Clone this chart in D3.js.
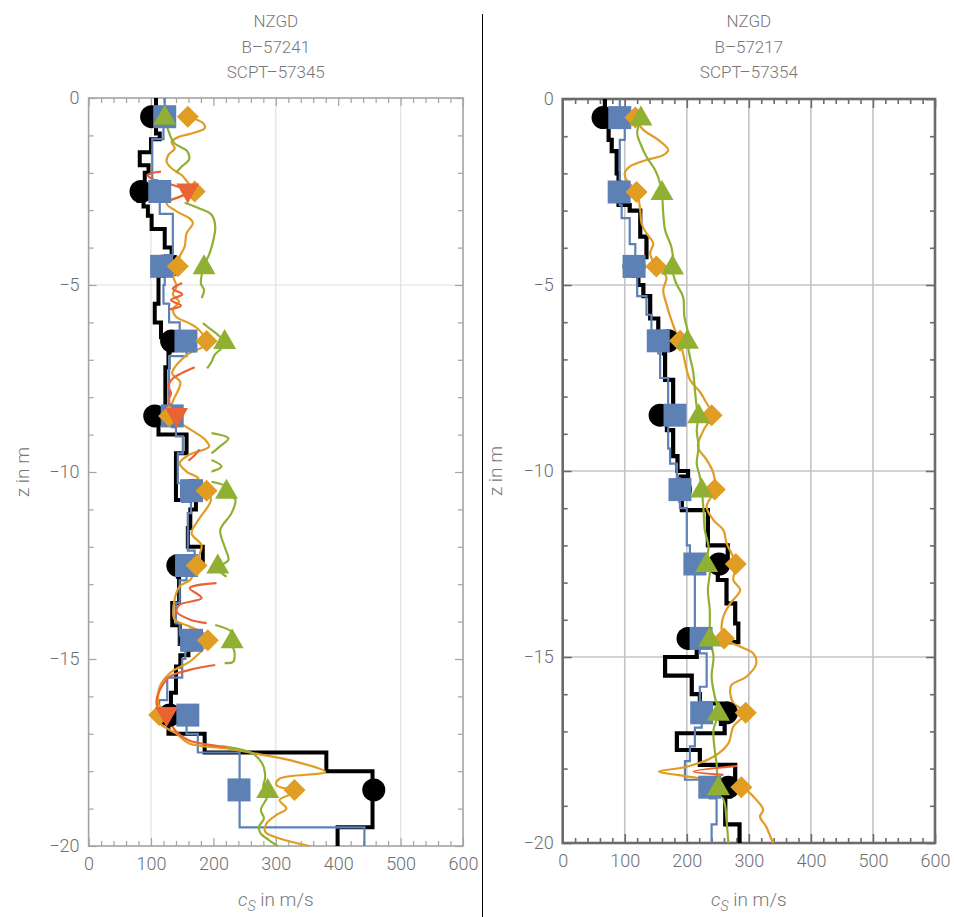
<!DOCTYPE html>
<html><head><meta charset="utf-8">
<script src="https://cdn.jsdelivr.net/npm/d3@7"></script>
<style>
body{margin:0;background:#fff;}
svg{display:block;}
text{font-family:Roboto,"DejaVu Sans",sans-serif;font-weight:300;}
</style>
</head><body>
<svg id="c" width="954" height="917"></svg>
<script>
// ---------- shared ----------
const xTickVals = [0,100,200,300,400,500,600];
const xTickLabels = ["0","100","200","300","400","500","600"];
const zTickVals = [0,-5,-10,-15,-20];
const zTickLabels = ["0","\u22125","\u221210","\u221215","\u221220"];
const markerDepths = [0.5,2.5,4.5,6.5,8.5,10.5,12.5,14.5,16.5,18.5];
const titleLeft = ["NZGD","B\u201357241","SCPT\u201357345"];
const titleRight = ["NZGD","B\u201357217","SCPT\u201357354"];

// ---------- left panel (B-57241) ----------
const L_blackTop = [0,0.95,1.1,1.45,1.8,2.0,2.3,2.75,2.9,3.15,3.5,4.0,4.25,4.7,5.5,6.0,6.4,6.8,7.2,8.4,8.7,9.0,9.5,10.75,11.0,11.5,12.0,12.4,12.8,13.5,14.1,14.6,14.9,15.2,15.9,16.6,17.0,17.5,18.0,19.5];
const L_blackVs  = [108,114,100,82,96,90,80,88,95,101,122,133,138,112,106,116,130,128,123,106,112,157,140,172,163,159,183,143,145,134,146,160,147,140,132,128,186,381,455,399];
const L_blueTop = [0,0.6,1.1,2.2,2.6,3.1,4.2,5.0,5.5,6.0,6.6,6.9,8.5,8.8,9.05,9.5,10.3,10.8,11.1,12.1,12.4,12.9,13.5,14.05,14.6,15.0,15.5,16.1,16.45,17.0,17.5,19.5];
const L_blueVs  = [122,120,102,110,114,135,122,120,129,146,157,129,134,140,151,143,150,164,159,170,157,146,140,146,155,150,126,113,157,175,242,442];
const L_orangeDepth = [0.5,0.68,0.81,0.95,1.03,1.17,1.35,1.52,1.7,1.88,2.06,2.28,2.5,2.64,2.82,3.08,3.22,3.35,3.62,3.97,4.24,4.5,4.78,5.04,5.25,5.45,5.65,5.85,6.02,6.2,6.56,6.9,7.36,7.6,8.07,8.34,8.5,8.78,9.14,9.32,9.54,9.76,9.99,10.17,10.3,10.52,10.75,11.28,11.64,11.95,12.2,12.53,12.88,13.06,13.6,13.95,14.13,14.35,14.53,15.02,15.38,15.74,16.27,16.58,16.72,16.99,17.26,17.39,17.53,17.75,18.02,18.2,18.37,18.55,18.77,19.0,19.17,19.4,19.62,19.8,20.0];
const L_orangeVs    = [159,184,186,165,146,133,138,128,125,133,149,160,170,146,125,146,162,167,157,154,146,143,136,141,135,145,135,140,161,177,189,155,134,147,136,130,129,155,187,193,161,146,157,176,146,189,196,176,165,181,178,173,163,146,136,138,162,187,191,166,130,114,111,113,114,140,161,221,268,333,379,306,301,330,306,317,301,285,283,306,354];
const L_greenDepth = [0.5,0.83,1.2,1.42,1.64,1.82,2.0,2.4, 2.8,2.94,3.12,3.43,3.79,4.15,4.5,4.96,5.13,5.35,5.6, 6.02,6.11,6.56,6.87,7.05,7.23,7.5, 8.96,9.1,9.32,9.5,9.6, 9.68,9.85,9.99,10.1, 10.26,10.4,10.57,10.74,11.1,11.55,12.0,12.35,12.57,12.8,13.0, 14.09,14.31,14.58,14.85,15.07,15.11,15.3, 17.35,17.53,17.79,18.15,18.42,18.64,19.04,19.26,19.49,19.67,19.84,20.0];
const L_greenVs    = [122,127,137,158,161,150,140,null, 154,176,197,203,200,194,185,180,185,181,null, 183,190,218,202,197,190,null, 197,224,210,197,null, 197,213,197,null, 197,221,221,235,229,211,218,224,207,221,null, 203,232,230,234,232,218,null, 221,263,278,283,280,287,276,281,273,276,289,303];
const L_redDepth = [1.97,2.05,2.15,2.3,2.5,2.65,2.75,2.9, 4.95,5.1,5.25,5.4,5.55,5.65,5.8, 7.2,7.35,7.5,7.7,7.9,8.1,8.3,8.5,8.7,8.9, 9.4,9.55,9.7,9.8, 12.97,13.1,13.37,13.55,13.73,13.95,14.04,14.2, 15.16,15.29,15.47,15.74,16.09,16.45,16.6,16.95,17.17,17.35];
const L_redVs    = [116,95,100,130,159,145,125,null, 150,135,150,132,148,130,null, 170,150,135,128,132,128,135,141,150,null, 178,170,160,null, 205,162,181,146,141,163,189,null, 203,162,130,117,109,114,125,141,160,221];
const L_mkBlack  = [101,84,118,133,106,165,143,163,130,457];
const L_mkBlue   = [122,114,117,156,134,165,157,165,159,241];
const L_mkOrange = [159,170,143,189,129,189,173,191,113,330];
const L_mkGreen  = [122,null,185,218,null,221,207,230,null,287];
const L_mkRed    = [null,159,null,null,141,null,null,null,125,null];

// ---------- right panel (B-57217) ----------
const R_blackTop = [0,0.6,1.1,1.4,2.0,2.85,3.0,3.7,4.25,5.0,5.3,5.9,6.45,6.84,7.55,8.27,8.6,8.9,9.6,10.0,10.15,10.8,11.05,12.0,12.4,12.93,13.56,14.1,14.6,15.0,15.5,16.0,16.25,16.8,17.05,17.5,17.9,18.4,18.75,19.5];
const R_blackVs  = [68,74,79,87,90,108,125,135,122,130,141,154,163,165,178,160,168,178,185,202,190,192,234,266,250,264,278,283,216,165,208,221,255,261,184,221,278,270,262,285];
const R_blueTop = [0,0.75,1.1,2.85,3.2,3.9,4.6,5.3,5.8,6.3,6.84,7.5,8.3,8.7,9.4,9.8,10.2,11.0,12.0,12.3,14.6,14.9,15.8,16.2,16.9,17.4,17.8,18.3,18.8,19.5];
const R_blueVs  = [92,100,92,95,108,117,120,135,143,154,157,170,181,170,173,184,189,200,205,213,221,232,221,224,213,205,197,237,248,240];
const R_orangeDepth = [0.52,0.83,1.1,1.37,1.51,1.64,1.82,2.0,2.18,2.49,2.99,3.34,3.61,3.88,4.15,4.51,4.78,5.14,5.5,5.94,6.3,6.52,6.84,7.55,7.87,8.09,8.5,8.9,9.35,9.7,10.06,10.51,10.96,11.32,11.59,11.94,12.21,12.48,12.66,12.93,13.2,13.56,13.91,14.23,14.5,14.72,14.9,15.17,15.53,15.75,15.98,16.24,16.5,16.87,17.32,17.68,17.95,18.08,18.17,18.26,18.49,18.84,19.11,19.29,19.56,19.92,20.0];
const R_orangeVs    = [117,130,154,170,162,135,108,100,103,119,125,127,135,146,141,151,167,162,167,175,183,189,194,205,221,229,240,227,218,232,243,245,232,243,259,264,272,279,278,275,286,270,259,256,260,286,307,312,296,272,270,275,295,275,267,243,200,155,184,221,288,312,323,318,328,337,340];
const R_greenDepth = [0.52,0.92,1.19,1.55,1.91,2.27,2.54,3.07,3.52,3.97,4.33,4.6,4.96,5.32,5.85,6.3,6.52,6.93,7.3,7.82,8.27,8.5,8.9,9.35,9.8,10.15,10.51,11.05,11.59,12.03,12.48,12.66,13.2,13.74,14.18,14.5,14.99,15.53,16.06,16.5,16.96,17.5,17.86,18.49,18.93,19.38,20.0];
const R_greenVs    = [126,120,125,135,149,157,160,162,165,175,178,177,183,194,196,202,201,205,210,213,216,219,216,219,216,221,224,227,229,235,232,237,234,237,237,237,243,240,245,251,243,245,248,251,261,264,267];
const R_redDepth = [17.93,18.08,18.17];
const R_redVs    = [281,211,259];
const R_mkBlack  = [65,92,115,170,157,190,252,202,264,267];
const R_mkBlue   = [92,91,115,154,181,189,213,223,224,237];
const R_mkOrange = [117,119,151,189,240,245,279,260,295,288];
const R_mkGreen  = [126,160,177,201,219,224,232,237,251,251];
const R_mkRed    = [null,null,null,null,null,null,null,null,null,null];

// ---------- styles ----------
const C_BLACK="#000000", C_BLUE="#5E81B5", C_ORANGE="#E19C24", C_GREEN="#8FB032", C_RED="#EB6235";

const svg = d3.select("#c");

// separator
svg.append("line").attr("x1",482.5).attr("x2",482.5).attr("y1",14).attr("y2",917)
  .attr("stroke","#000").attr("stroke-width",1);

function stepPoints(tops, vs){
  const pts=[];
  tops.forEach((t,i)=>{
    const next = i<tops.length-1 ? tops[i+1] : 20;
    pts.push([vs[i],t]); pts.push([vs[i],next]);
  });
  return pts;
}

function drawPanel(p){
  const x = d3.scaleLinear().domain([0,600]).range([p.x0,p.x1]);
  const y = d3.scaleLinear().domain([0,-20]).range([p.y0,p.y1]);
  const g = svg.append("g");

  // grid
  p.gridX.forEach(v=>g.append("line").attr("x1",x(v)).attr("x2",x(v)).attr("y1",p.y0).attr("y2",p.y1)
      .attr("stroke",p.gridColor).attr("stroke-width",p.gridW));
  p.gridZ.forEach(v=>g.append("line").attr("y1",y(v)).attr("y2",y(v)).attr("x1",p.x0).attr("x2",p.x1)
      .attr("stroke",p.gridColor).attr("stroke-width",p.gridW));

  // axes
  function styleAxis(sel){
    sel.select(".domain").remove();
    sel.selectAll(".tick line").attr("stroke",p.axisColor).attr("stroke-width",p.tickW);
    sel.selectAll(".tick text").attr("fill","#6e6e6e").attr("font-size",18)
      .attr("font-family","Roboto, 'DejaVu Sans', sans-serif").attr("font-weight",300);
  }
  const minorX = d3.range(0,601,20).filter(v=>v%100!==0);
  const minorZ = d3.range(0,-21,-1).filter(v=>v%5!==0);
  g.append("g").attr("transform",`translate(0,${p.y1})`)
    .call(d3.axisBottom(x).tickValues(xTickVals).tickSize(-p.majorLen).tickSizeOuter(0).tickPadding(11)
      .tickFormat((d,i)=>xTickLabels[i])).call(styleAxis);
  g.append("g").attr("transform",`translate(0,${p.y1})`)
    .call(d3.axisBottom(x).tickValues(minorX).tickSize(-p.minorLen).tickSizeOuter(0).tickFormat("")).call(styleAxis);
  g.append("g").attr("transform",`translate(0,${p.y0})`)
    .call(d3.axisTop(x).tickValues(xTickVals).tickSize(-p.majorLen).tickSizeOuter(0).tickFormat("")).call(styleAxis);
  g.append("g").attr("transform",`translate(0,${p.y0})`)
    .call(d3.axisTop(x).tickValues(minorX).tickSize(-p.minorLen).tickSizeOuter(0).tickFormat("")).call(styleAxis);
  g.append("g").attr("transform",`translate(${p.x0},0)`)
    .call(d3.axisLeft(y).tickValues(zTickVals).tickSize(-p.majorLen).tickSizeOuter(0).tickPadding(p.yPad)
      .tickFormat((d,i)=>zTickLabels[i])).call(styleAxis);
  g.append("g").attr("transform",`translate(${p.x0},0)`)
    .call(d3.axisLeft(y).tickValues(minorZ).tickSize(-p.minorLen).tickSizeOuter(0).tickFormat("")).call(styleAxis);
  g.append("g").attr("transform",`translate(${p.x1},0)`)
    .call(d3.axisRight(y).tickValues(zTickVals).tickSize(-p.majorLen).tickSizeOuter(0).tickFormat("")).call(styleAxis);
  g.append("g").attr("transform",`translate(${p.x1},0)`)
    .call(d3.axisRight(y).tickValues(minorZ).tickSize(-p.minorLen).tickSizeOuter(0).tickFormat("")).call(styleAxis);

  // frame
  g.append("rect").attr("x",p.x0).attr("y",p.y0).attr("width",p.x1-p.x0).attr("height",p.y1-p.y0)
    .attr("fill","none").attr("stroke",p.axisColor).attr("stroke-width",p.frameW);

  // titles
  p.title.forEach((t,i)=>g.append("text").attr("x",(p.x0+p.x1)/2).attr("y",27+i*25.5)
    .attr("text-anchor","middle").attr("font-size",17).attr("fill","#777").text(t));

  // axis labels
  const xl = g.append("text").attr("x",(p.x0+p.x1)/2).attr("y",906).attr("text-anchor","middle")
    .attr("font-size",19).attr("fill","#777");
  xl.append("tspan").attr("font-style","italic").text("c");
  xl.append("tspan").attr("font-style","italic").attr("font-size",14).attr("dy",5).text("S");
  xl.append("tspan").attr("dy",-5).text(" in m/s");
  g.append("text").attr("transform",`translate(${p.ylabX},${(p.y0+p.y1)/2}) rotate(-90)`)
    .attr("text-anchor","middle").attr("font-size",19).attr("fill","#777").text("z in m");

  // lines
  const lin = d3.line().x(d=>x(d[0])).y(d=>y(-d[1]));
  const smooth = d3.line().defined(d=>d[0]!=null).x(d=>x(d[0])).y(d=>y(-d[1])).curve(d3.curveCatmullRom.alpha(0.5));
  const pair = (ds,vs)=>ds.map((d,i)=>[vs[i],d]);

  g.append("path").attr("d",lin(stepPoints(p.blackTop,p.blackVs))).attr("fill","none")
    .attr("stroke",C_BLACK).attr("stroke-width",p.blackW).attr("stroke-linejoin","miter");
  g.append("path").attr("d",lin(stepPoints(p.blueTop,p.blueVs))).attr("fill","none")
    .attr("stroke",C_BLUE).attr("stroke-width",2.2);
  g.append("path").attr("d",smooth(pair(p.orangeDepth,p.orangeVs))).attr("fill","none")
    .attr("stroke",C_ORANGE).attr("stroke-width",2.2);
  g.append("path").attr("d",smooth(pair(p.greenDepth,p.greenVs))).attr("fill","none")
    .attr("stroke",C_GREEN).attr("stroke-width",2.2);
  g.append("path").attr("d",smooth(pair(p.redDepth,p.redVs))).attr("fill","none")
    .attr("stroke",C_RED).attr("stroke-width",2.2);

  // markers
  const mk = g.append("g");
  function place(vals, drawFn){
    vals.forEach((v,i)=>{ if(v==null) return; drawFn(x(v), y(-markerDepths[i])); });
  }
  place(p.mkBlack,(cx,cy)=>mk.append("circle").attr("cx",cx).attr("cy",cy).attr("r",11.5).attr("fill",C_BLACK));
  place(p.mkBlue,(cx,cy)=>mk.append("rect").attr("x",cx-11.5).attr("y",cy-11.5).attr("width",23).attr("height",23).attr("fill",C_BLUE));
  place(p.mkOrange,(cx,cy)=>mk.append("path").attr("d",`M${cx},${cy-11}L${cx+11},${cy}L${cx},${cy+11}L${cx-11},${cy}Z`).attr("fill",C_ORANGE));
  place(p.mkGreen,(cx,cy)=>mk.append("path").attr("d",`M${cx},${cy-12}L${cx+11.5},${cy+8}L${cx-11.5},${cy+8}Z`).attr("fill",C_GREEN));
  place(p.mkRed,(cx,cy)=>mk.append("path").attr("d",`M${cx},${cy+12}L${cx+11.5},${cy-8}L${cx-11.5},${cy-8}Z`).attr("fill",C_RED));
}

drawPanel({x0:88.6,x1:463,y0:98,y1:846,title:titleLeft,
  gridX:[100,300,500],gridZ:[-5],gridColor:"#e2e2e2",gridW:1.2,
  axisColor:"#a3a3a3",frameW:1.6,tickW:1.2,majorLen:8,minorLen:5,yPad:9,ylabX:29,blackW:4,
  blackTop:L_blackTop,blackVs:L_blackVs,blueTop:L_blueTop,blueVs:L_blueVs,
  orangeDepth:L_orangeDepth,orangeVs:L_orangeVs,greenDepth:L_greenDepth,greenVs:L_greenVs,
  redDepth:L_redDepth,redVs:L_redVs,
  mkBlack:L_mkBlack,mkBlue:L_mkBlue,mkOrange:L_mkOrange,mkGreen:L_mkGreen,mkRed:L_mkRed});

drawPanel({x0:562.7,x1:935,y0:99,y1:843,title:titleRight,
  gridX:[100,200,300,400,500],gridZ:[-5,-10,-15],gridColor:"#c4c4c4",gridW:1.6,
  axisColor:"#6b6b6b",frameW:2.6,tickW:1.6,majorLen:9,minorLen:5,yPad:9,ylabX:502,blackW:4.2,
  blackTop:R_blackTop,blackVs:R_blackVs,blueTop:R_blueTop,blueVs:R_blueVs,
  orangeDepth:R_orangeDepth,orangeVs:R_orangeVs,greenDepth:R_greenDepth,greenVs:R_greenVs,
  redDepth:R_redDepth,redVs:R_redVs,
  mkBlack:R_mkBlack,mkBlue:R_mkBlue,mkOrange:R_mkOrange,mkGreen:R_mkGreen,mkRed:R_mkRed});
</script>
</body></html>
